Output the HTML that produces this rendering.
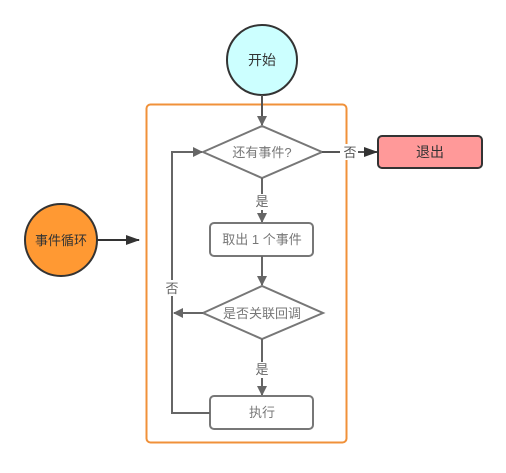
<!DOCTYPE html>
<html><head><meta charset="utf-8"><style>
html,body{margin:0;padding:0;background:#fff;}
svg text{font-family:"Liberation Sans","Noto Sans CJK SC",sans-serif;}
</style></head><body>
<svg width="506" height="468" viewBox="0 0 506 468" xmlns="http://www.w3.org/2000/svg">
<defs>
<marker id="g" markerWidth="10" markerHeight="10" refX="9" refY="5" orient="auto" markerUnits="userSpaceOnUse"><path d="M0,0 L10,5 L0,10 Z" fill="#666"/></marker>
<marker id="k" markerWidth="14" markerHeight="10" refX="13" refY="5" orient="auto" markerUnits="userSpaceOnUse"><path d="M0,0 L14,5 L0,10 Z" fill="#333"/></marker>
</defs>
<rect x="146.5" y="104.5" width="200" height="338" rx="4" fill="none" stroke="#f0913a" stroke-width="2"/>
<circle cx="262" cy="60" r="35" fill="#ccffff" stroke="#333" stroke-width="2"/>
<text x="262" y="65" font-size="14" text-anchor="middle" fill="#333">开始</text>
<line x1="262" y1="95" x2="262" y2="125" stroke="#555" stroke-width="2" marker-end="url(#g)"/>
<polygon points="203,152 262,126 322,152 262,178" fill="#fff" stroke="#777" stroke-width="2"/>
<text x="262" y="157" font-size="13" text-anchor="middle" fill="#777">还有事件?</text>
<line x1="322" y1="152" x2="377" y2="152" stroke="#555" stroke-width="2" marker-end="url(#k)"/>
<rect x="340" y="144" width="18" height="16" fill="#fff"/>
<text x="350" y="157" font-size="13" text-anchor="middle" fill="#555">否</text>
<rect x="378" y="136" width="104" height="32" rx="4" fill="#ff9999" stroke="#333" stroke-width="2"/>
<text x="430" y="157" font-size="14" text-anchor="middle" fill="#333">退出</text>
<line x1="262" y1="178" x2="262" y2="222" stroke="#666" stroke-width="2" marker-end="url(#g)"/>
<rect x="254" y="194" width="16" height="16" fill="#fff"/>
<text x="262" y="206" font-size="13" text-anchor="middle" fill="#666">是</text>
<rect x="210" y="223" width="103" height="33" rx="4" fill="#fff" stroke="#777" stroke-width="2"/>
<text x="262" y="244" font-size="13" text-anchor="middle" fill="#777">取出 1 个事件</text>
<line x1="262" y1="256" x2="262" y2="285" stroke="#666" stroke-width="2" marker-end="url(#g)"/>
<polygon points="203,313 262,286 323,313 262,339" fill="#fff" stroke="#777" stroke-width="2"/>
<text x="262" y="318" font-size="13" text-anchor="middle" fill="#777">是否关联回调</text>
<line x1="203" y1="313" x2="174" y2="313" stroke="#666" stroke-width="2" marker-end="url(#g)"/>
<line x1="262" y1="339" x2="262" y2="395" stroke="#666" stroke-width="2" marker-end="url(#g)"/>
<rect x="254" y="362" width="16" height="16" fill="#fff"/>
<text x="262" y="374" font-size="13" text-anchor="middle" fill="#666">是</text>
<rect x="210" y="396" width="103" height="33" rx="4" fill="#fff" stroke="#777" stroke-width="2"/>
<text x="262" y="417" font-size="13" text-anchor="middle" fill="#777">执行</text>
<polyline points="210,413 172,413 172,152 202,152" fill="none" stroke="#666" stroke-width="2" marker-end="url(#g)"/>
<rect x="164" y="280" width="16" height="16" fill="#fff"/>
<text x="172" y="293" font-size="13" text-anchor="middle" fill="#666">否</text>
<circle cx="61" cy="240" r="36" fill="#ff9933" stroke="#333" stroke-width="2"/>
<text x="61" y="245" font-size="13" text-anchor="middle" fill="#333">事件循环</text>
<line x1="97" y1="240" x2="139" y2="240" stroke="#333" stroke-width="2" marker-end="url(#k)"/>
</svg>
</body></html>
